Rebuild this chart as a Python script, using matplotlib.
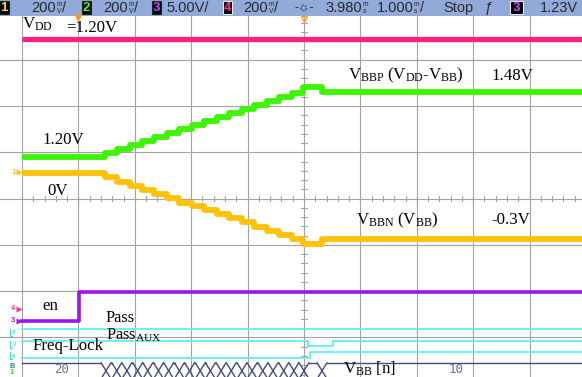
import matplotlib
matplotlib.use("Agg")
import matplotlib.pyplot as plt
from matplotlib import transforms
from matplotlib.patches import Rectangle

W, H, DPI = 582, 377, 100

# Screen geometry: 10 x 8 divisions
X0_PX, DIV_W_PX = 22.0, 56.4
Y0_PX, DIV_H_PX = 13.4, 46.3

# ---------------- captured waveforms ----------------
# time in ms from the left edge of the screen (1 ms/div)
step_times_ms = [1.47, 1.68, 1.91, 2.13, 2.34, 2.57, 2.78, 3.01, 3.23,
                 3.46, 3.67, 3.90, 4.11, 4.34, 4.56, 4.79, 4.98, 5.32]
vbbp_v = [1.200, 1.220, 1.236, 1.253, 1.270, 1.286, 1.304, 1.321, 1.340, 1.356,
          1.373, 1.393, 1.407, 1.426, 1.445, 1.462, 1.476, 1.504, 1.48]
vbbn_v = [0.000, -0.016, -0.039, -0.058, -0.077, -0.097, -0.115, -0.135, -0.150,
          -0.169, -0.189, -0.207, -0.225, -0.246, -0.264, -0.284, -0.300, -0.323, -0.30]
vdd_v = 1.20

# digital signals: (time_ms, level) transitions
en_logic = [(0.0, 0), (1.01, 1)]
pass_logic = [(0.0, 1)]
passaux_logic = [(0.0, 1), (5.07, 0), (5.51, 1)]
freqlock_logic = [(0.0, 0), (5.10, 1)]

# V_BB[n] bus crossings (ms) and the codes shown before/after
bus_cross_ms = [1.49, 1.68, 1.86, 2.05, 2.23, 2.42, 2.60, 2.79, 2.97, 3.16,
                3.34, 3.53, 3.71, 3.90, 4.08, 4.27, 4.45, 4.64, 4.82, 5.00, 5.32]
bus_first, bus_last = "20", "10"

# channel display: (reference volts, row of reference in div from top, volts/div)
ch_vdd = (1.20, 0.553, 0.200)
ch_vbbp = (1.20, 3.108, 0.200)
ch_vbbn = (0.00, 3.454, 0.213)

# digital lane rows (div from top): (low, high)
lane_en = (6.637, 6.011)
lane_pass = (6.924, 6.810)
lane_passaux = (7.184, 7.065)
lane_freqlock = (7.432, 7.320)
bus_rows = (7.551, 7.886)

# colours
C_GRID = "#a3a3a3"
C_VDD = "#ff1f7d"
C_VBBP = "#3cf500"
C_VBBN = "#ffc20a"
C_EN = "#a012f5"
C_DIG = "#5cf2f2"
C_BUS = "#454a7a"
C_HDR = "#91aada"


def rows(vals, ch):
    ref, row, vpd = ch
    return [row - (v - ref) / vpd for v in vals]


def logic_xy(trans, lane, t_end=10.0):
    lo, hi = lane
    xs, ys = [], []
    for t, lvl in trans:
        xs.append(t)
        ys.append(hi if lvl else lo)
    xs.append(t_end)
    ys.append(ys[-1])
    return xs, ys


fig = plt.figure(figsize=(W / DPI, H / DPI), dpi=DPI)
fig.patch.set_facecolor("white")
ax = fig.add_axes([0, 0, 1, 1])
ax.set_xlim((0 - X0_PX) / DIV_W_PX, (W - X0_PX) / DIV_W_PX)
ax.set_ylim((H - Y0_PX) / DIV_H_PX, (0 - Y0_PX) / DIV_H_PX)
ax.axis("off")

# pixel transform (origin top-left) for annotations
PX = transforms.Affine2D().scale(1 / DPI, -1 / DPI).translate(0, H / DPI) + fig.dpi_scale_trans

# ---------------- graticule ----------------
for k in range(0, 11):
    ax.axvline(k, color=C_GRID, lw=0.8, zorder=1)
for k in range(1, 9):
    ax.axhline(k, color=C_GRID, lw=0.8, zorder=1)
# minor ticks on the centre cross
for i in range(1, 50):
    t = i * 0.2
    ax.plot([t, t], [4 - 0.05, 4 + 0.05], color=C_GRID, lw=0.8, zorder=1)
for i in range(1, 40):
    r = i * 0.2
    ax.plot([5 - 0.045, 5 + 0.045], [r, r], color=C_GRID, lw=0.8, zorder=1)

# ---------------- analog traces ----------------
t_steps = [0.0] + step_times_ms + [10.0]
ax.step(t_steps, rows(vbbp_v + [vbbp_v[-1]], ch_vbbp), where="post",
        color=C_VBBP, lw=4.2, zorder=3, solid_capstyle="butt")
ax.step(t_steps, rows(vbbn_v + [vbbn_v[-1]], ch_vbbn), where="post",
        color=C_VBBN, lw=4.2, zorder=3, solid_capstyle="butt")
ax.plot([0, 10], rows([vdd_v, vdd_v], ch_vdd), color=C_VDD, lw=3.8, zorder=3,
        solid_capstyle="butt")

# ---------------- digital traces ----------------
x, y = logic_xy(en_logic, lane_en)
ax.step(x, y, where="post", color=C_EN, lw=2.6, zorder=3)
for trans, lane in ((pass_logic, lane_pass), (passaux_logic, lane_passaux),
                    (freqlock_logic, lane_freqlock)):
    x, y = logic_xy(trans, lane)
    ax.step(x, y, where="post", color=C_DIG, lw=1.3, zorder=3)

# bus
top, bot = bus_rows
hw = 0.085
edges = [0.0] + bus_cross_ms + [10.0]
for i in range(len(edges) - 1):
    a = edges[i] + (hw if i > 0 else 0)
    b = edges[i + 1] - (hw if i + 1 < len(edges) - 1 else 0)
    if b > a:
        ax.plot([a, b], [top, top], color=C_BUS, lw=1.0, zorder=3)
        ax.plot([a, b], [bot, bot], color=C_BUS, lw=1.0, zorder=3)
for c in bus_cross_ms:
    ax.plot([c - hw, c + hw], [top, bot], color=C_BUS, lw=1.0, zorder=3)
    ax.plot([c - hw, c + hw], [bot, top], color=C_BUS, lw=1.0, zorder=3)
mid = (top + bot) / 2 - 0.03
ax.text((edges[0] + edges[1] - hw) / 2, mid, bus_first, color="#6a6f9a",
        fontsize=9, family="DejaVu Sans Mono", ha="center", va="center", zorder=4)
ax.text((edges[-2] + hw + edges[-1]) / 2, mid, bus_last, color="#6a6f9a",
        fontsize=9, family="DejaVu Sans Mono", ha="center", va="center", zorder=4)

# ---------------- header bar ----------------
ax.add_patch(Rectangle((0, 0), W, 15.5, transform=PX, fc=C_HDR, ec="none",
                       zorder=10, clip_on=False))
HF = ["Liberation Sans", "DejaVu Sans"]
HC = "#2a2a2a"


def hdr(xp, s, size=10.5, color=HC, ha="left", yp=8.2):
    ax.text(xp, yp, s, transform=PX, fontsize=size, color=color, family=HF,
            ha=ha, va="center", zorder=12)


def chbox(xp, w, digit, color, edge="#222222"):
    ax.add_patch(Rectangle((xp, 1.2), w, 13.3, transform=PX, fc="black",
                           ec=edge, lw=0.8, zorder=11, clip_on=False))
    ax.text(xp + w / 2, 8.2, digit, transform=PX, fontsize=9.5, color=color,
            family=HF, ha="center", va="center", zorder=12, weight="bold")


def unit(xp, top_s, bot_s):
    ax.text(xp, 4.6, top_s, transform=PX, fontsize=4.8, color=HC, family=HF,
            ha="left", va="center", zorder=12)
    ax.text(xp, 11.2, bot_s, transform=PX, fontsize=4.8, color=HC, family=HF,
            ha="left", va="center", zorder=12)


chbox(-1, 9.5, "1", "#ffd21a")
hdr(31, "200"); unit(56.5, "m", "V"); hdr(62, "/")
chbox(81.5, 9, "2", "#44ff22")
hdr(103, "200"); unit(128.5, "m", "V"); hdr(134, "/")
chbox(151.5, 9, "3", "#c050ff")
hdr(166, "5.00V/")
chbox(222.5, 9, "4", "#ff3090", edge="#e8e8e8")
hdr(243, "200"); unit(268.5, "m", "V"); hdr(274, "/")
hdr(304, "-\u263c-", size=9, ha="center")
hdr(325, "3.980"); unit(362.5, "m", "s")
hdr(377, "1.000"); unit(414, "m", "s"); hdr(419.5, "/")
hdr(443, "Stop")
hdr(489, "\u0192", size=10.5, ha="center")
chbox(509.5, 13, "3", "#c050ff", edge="#e8e8e8")
hdr(540, "1.23V")

# trigger / delay markers
ax.plot([78], [17.5], marker="v", ms=6, color="#ff9a1a", transform=PX,
        zorder=12, clip_on=False, mec="none")
ax.plot([304], [18.5], marker="v", ms=5, mfc="none", mec="#ff9a1a", mew=1.0,
        transform=PX, zorder=12, clip_on=False)

# ---------------- left-margin channel markers ----------------
def tiny(xp, yp, s, color, size=5.5):
    ax.text(xp, yp, s, transform=PX, fontsize=size, color=color, family=HF,
            ha="center", va="center", zorder=12, weight="bold")


tiny(13.5, 172, "1", C_VBBN)
ax.plot([18.5], [171.5], marker=">", ms=4, color=C_VBBN, transform=PX, zorder=12, mec="none")
tiny(13, 309, "4", "#ff3090")
ax.plot([18.5], [309], marker=">", ms=4, color="#ff3090", transform=PX, zorder=12, mec="none")
tiny(13, 321, "3", C_EN)
ax.plot([18.5], [321], marker=">", ms=4, color=C_EN, transform=PX, zorder=12, mec="none")
for yp, d in ((333, "8"), (345, "7"), (356, "6")):
    tiny(14, yp, d, "#47dede", size=4.5)
    ax.plot([10, 10, 12], [yp - 4, yp + 3, yp + 3], color="#47dede", lw=0.8, transform=PX, zorder=12)
tiny(12, 366.5, "B", "#3a7a9a", size=5.5)
tiny(12, 372.5, "1", "#3ccc40", size=5.5)

# ---------------- annotations ----------------
plt.rcParams["mathtext.default"] = "regular"
SF = ["Liberation Serif", "DejaVu Serif"]
FS = 12.2


def lab(xp, yp, s, size=FS):
    ax.text(xp, yp, s, transform=PX, fontsize=size, color="black", family=SF,
            ha="left", va="baseline", zorder=13)


lab(21.5, 28.5, r"$\mathregular{V_{DD}}$")
lab(66, 32.5, "=1.20V")
lab(43, 143.5, "1.20V")
lab(47, 195, "0V")
lab(348.5, 79.5, r"$\mathregular{V_{BBP}}$ ($\mathregular{V_{DD}}$-$\mathregular{V_{BB}}$)")
lab(491.5, 79.5, "1.48V")
lab(356.5, 224.5, r"$\mathregular{V_{BBN}}$ ($\mathregular{V_{BB}}$)")
lab(491.5, 224.5, "-0.3V")
lab(42, 310, "en")
lab(105.5, 322.5, "Pass", size=11.8)
lab(106.5, 339.5, r"$\mathregular{Pass_{AUX}}$", size=11.8)
lab(32.5, 350.5, "Freq-Lock")
lab(343, 373.5, r"$\mathregular{V_{BB}}$ [n]")

fig.savefig("out.png", dpi=DPI, facecolor="white")
